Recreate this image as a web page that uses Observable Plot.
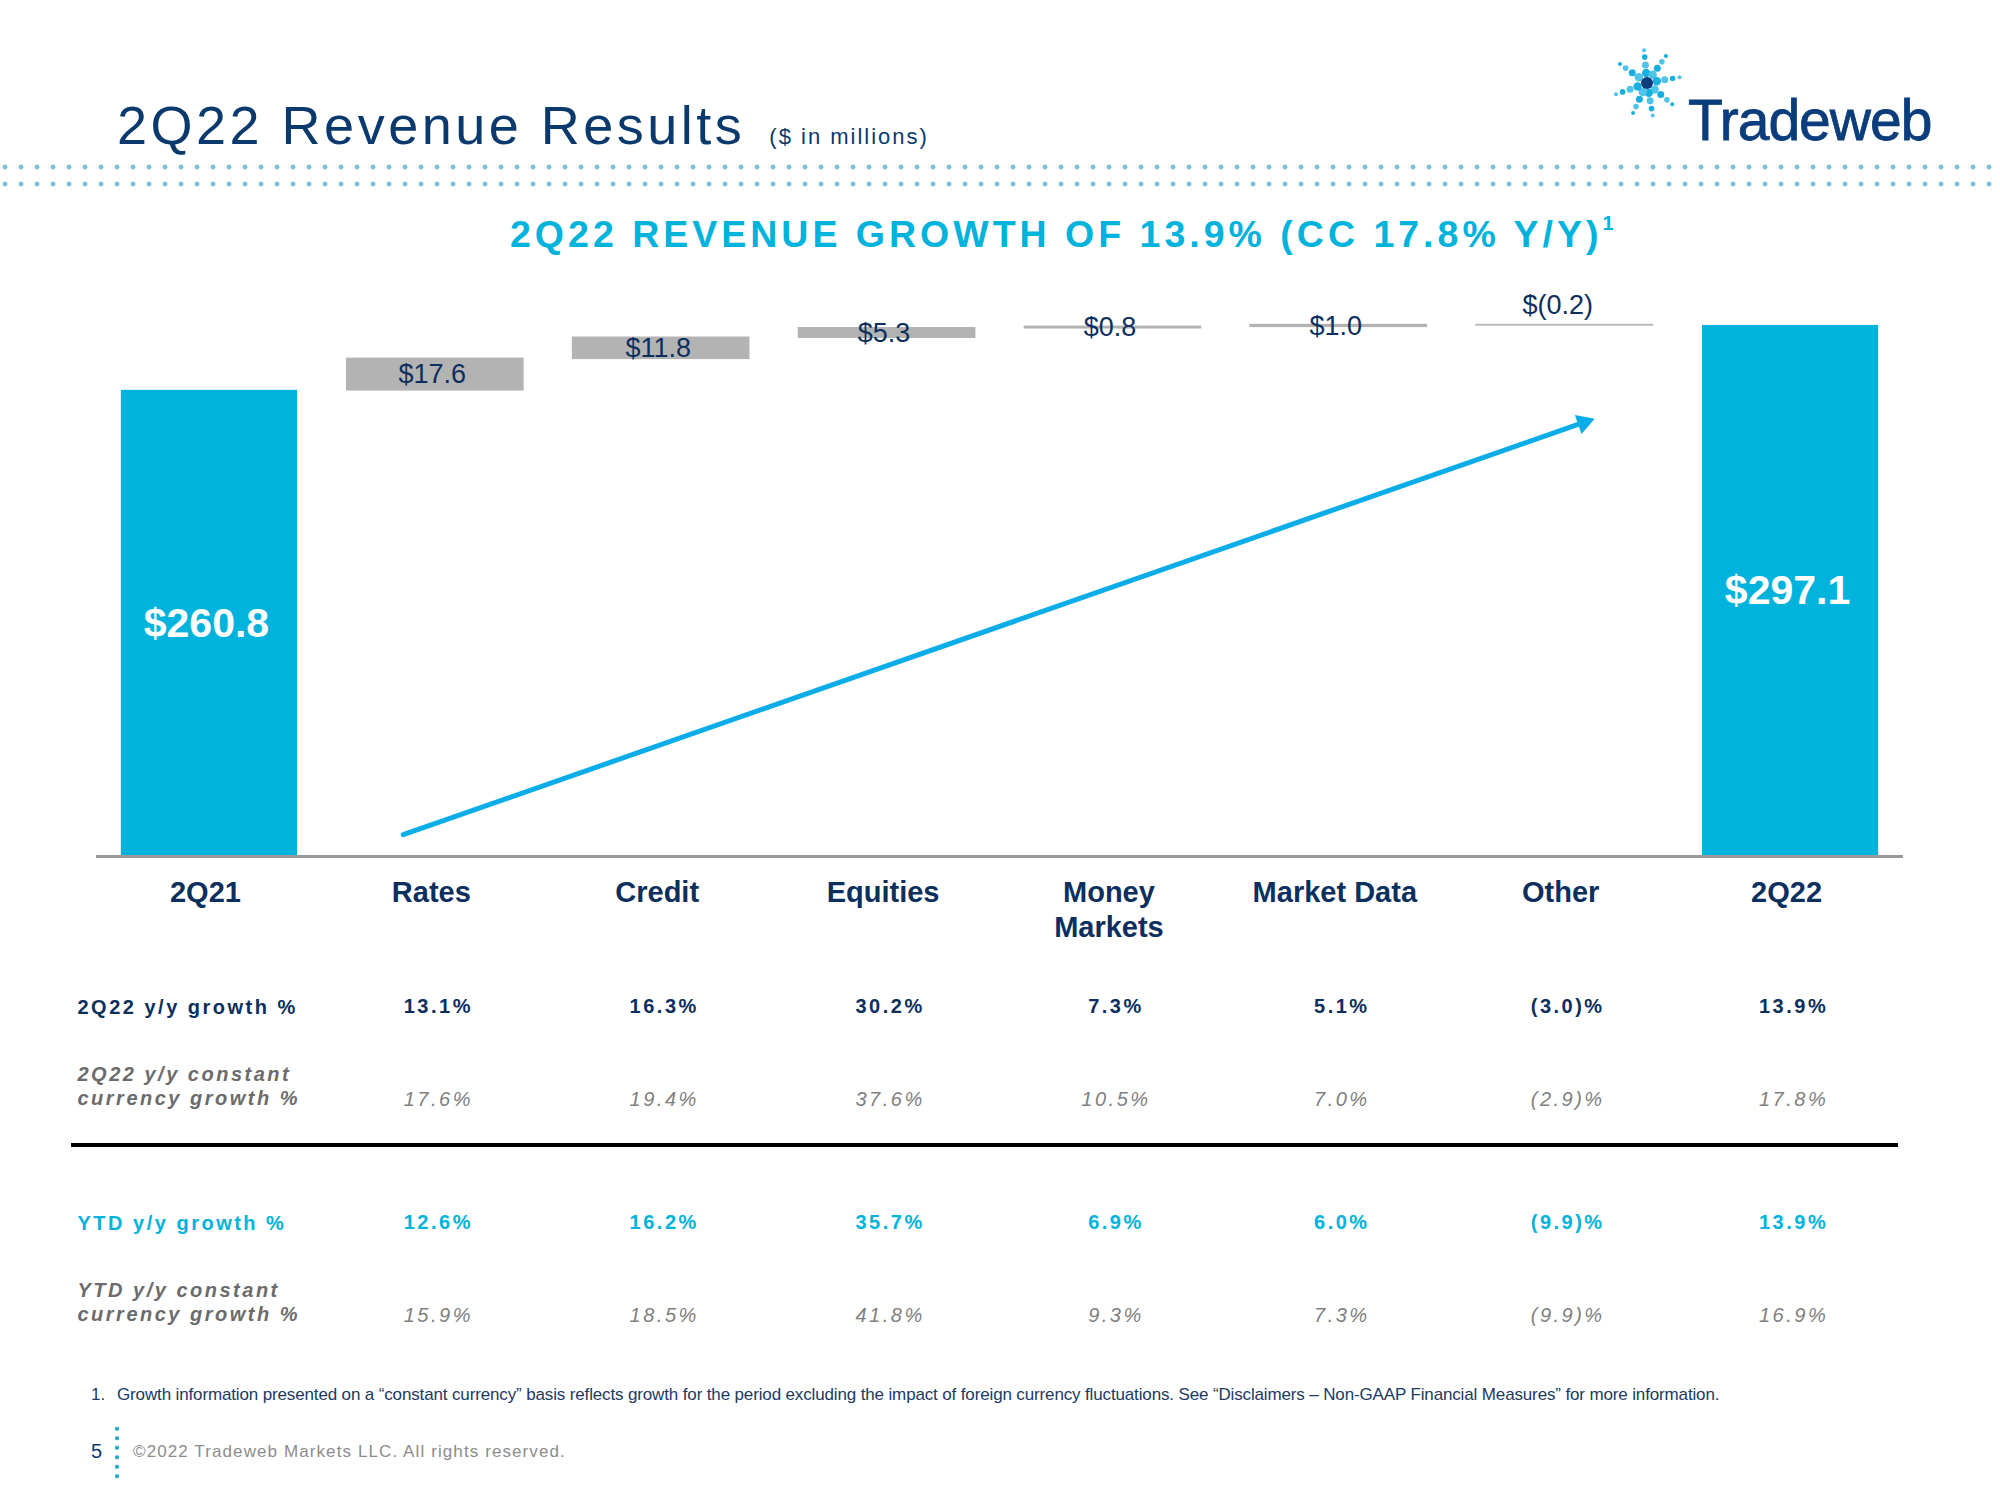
<!DOCTYPE html>
<html>
<head>
<meta charset="utf-8">
<script src="https://cdn.jsdelivr.net/npm/d3@7"></script>
<script src="https://cdn.jsdelivr.net/npm/@observablehq/plot@0.6"></script>
<style>
html,body{margin:0;padding:0;background:#fff;}
body{width:2000px;height:1500px;position:relative;overflow:hidden;font-family:"Liberation Sans",Arial,Helvetica,sans-serif;}
.abs{position:absolute;white-space:nowrap;line-height:1;}
#title{left:117px;top:98px;font-size:54px;letter-spacing:3.5px;color:#0a3a6d;}
#title span{font-size:22px;letter-spacing:2px;margin-left:24px;}
#subtitle{left:510px;top:216px;font-size:37.5px;font-weight:bold;letter-spacing:4px;color:#00b3dc;}
#subtitle sup{font-size:20px;position:relative;top:-4px;letter-spacing:0;}
#logo{left:1688px;top:92px;font-size:57px;letter-spacing:-1px;color:#0b3c7c;-webkit-text-stroke:0.8px #0b3c7c;}
.dots{position:absolute;left:0;width:2000px;height:8px;background-image:radial-gradient(circle at 50% 50%, #7fc1d2 0 2.2px, transparent 2.8px);background-size:16px 8px;background-position:-3px 0;}
#rule{left:71px;top:1143px;width:1827px;height:3.5px;background:#000;}
#foot1{left:91px;top:1386px;font-size:17px;letter-spacing:-0.14px;color:#1c3a63;}
#foot1 b{font-weight:normal;display:inline-block;width:26px;letter-spacing:0;}
#pageno{left:91px;top:1441px;font-size:20px;color:#0a3a6d;}
#vdots{position:absolute;left:113px;top:1424px;width:8px;height:56px;background-image:radial-gradient(circle at 50% 50%, #27a9c9 0 1.8px, transparent 2.4px);background-size:8px 9.5px;}
#copy{left:133px;top:1443px;font-size:17px;letter-spacing:1.1px;color:#8c8c8c;}
.plotwrap{position:absolute;left:0;}
</style>
</head>
<body>
<div class="abs" id="title">2Q22 Revenue Results<span>($ in millions)</span></div>
<svg class="abs" id="burst" style="left:0;top:0" width="2000" height="160"></svg>
<div class="abs" id="logo">Tradeweb</div>
<div class="dots" style="top:163px"></div>
<div class="dots" style="top:180px"></div>
<div class="abs" id="subtitle">2Q22 REVENUE GROWTH OF 13.9% (CC 17.8% Y/Y)<sup>1</sup></div>
<div class="plotwrap" id="chart" style="top:270px"></div>
<div class="plotwrap" id="table1" style="top:960px"></div>
<div class="abs" id="rule"></div>
<div class="plotwrap" id="table2" style="top:1176px"></div>
<div class="abs" id="foot1"><b>1.</b>Growth information presented on a “constant currency” basis reflects growth for the period excluding the impact of foreign currency fluctuations. See “Disclaimers – Non-GAAP Financial Measures” for more information.</div>
<div class="abs" id="pageno">5</div>
<div id="vdots"></div>
<div class="abs" id="copy">©2022 Tradeweb Markets LLC. All rights reserved.</div>
<script>
// ---------- data ----------
const categories = ["2Q21", "Rates", "Credit", "Equities", "Money Markets", "Market Data", "Other", "2Q22"];
const categoryLabels = ["2Q21", "Rates", "Credit", "Equities", "Money\nMarkets", "Market Data", "Other", "2Q22"];
const openingRevenue = 260.8;   // 2Q21
const closingRevenue = 297.1;   // 2Q22
const segments = ["Rates", "Credit", "Equities", "Money Markets", "Market Data", "Other"];
const segmentChange = [17.6, 11.8, 5.3, 0.8, 1.0, -0.2];

const growthColumns = ["Rates", "Credit", "Equities", "Money Markets", "Market Data", "Other", "2Q22"];
const yoyGrowth = [13.1, 16.3, 30.2, 7.3, 5.1, -3.0, 13.9];
const yoyCcGrowth = [17.6, 19.4, 37.6, 10.5, 7.0, -2.9, 17.8];
const ytdGrowth = [12.6, 16.2, 35.7, 6.9, 6.0, -9.9, 13.9];
const ytdCcGrowth = [15.9, 18.5, 41.8, 9.3, 7.3, -9.9, 16.9];

const trendArrow = [{from: "Rates", to: "Other", startValue: 18.5, endValue: 239.1}];

// ---------- derived ----------
let running = openingRevenue;
const steps = segments.map((s, i) => {
  const start = running;
  running = +(running + segmentChange[i]).toFixed(1);
  return {category: s, change: segmentChange[i], start, end: running};
});
const totals = [
  {category: categories[0], value: openingRevenue},
  {category: categories[categories.length - 1], value: closingRevenue}
];
const money = v => v < 0 ? `$(${(-v).toFixed(1)})` : `$${v.toFixed(1)}`;
const pct = v => v < 0 ? `(${(-v).toFixed(1)})%` : `${v.toFixed(1)}%`;

const FONT = '"Liberation Sans", Arial, Helvetica, sans-serif';
const NAVY = "#0c2f5e";
const CYAN = "#00b3dc";
const GREY_BAR = "#b3b3b3";
const ARROW = "#0aade8";
const xScale = {type: "band", domain: categories, paddingInner: 0.22, paddingOuter: 0.11, round: false, axis: null};

// ---------- chart ----------
const chart = Plot.plot({
  width: 2000, height: 686,
  marginTop: 14, marginRight: 97, marginBottom: 100, marginLeft: 96,
  x: xScale,
  y: {domain: [0, 320], axis: null},
  style: `font-family: ${FONT}; background: transparent; overflow: visible;`,
  marks: [
    Plot.barY(totals, {x: "category", y: "value", fill: CYAN}),
    Plot.barY(steps, {x: "category", y1: "start", y2: "end", fill: GREY_BAR, stroke: GREY_BAR, strokeWidth: 1.5}),
    Plot.ruleY([0], {stroke: "#9a9a9a", strokeWidth: 3}),
    Plot.arrow(trendArrow, {x1: "from", y1: "startValue", x2: "to", y2: "endValue",
      stroke: ARROW, strokeWidth: 5, headLength: 0, insetStart: -34, insetEnd: -18}),
    Plot.dot(trendArrow, {x: "to", y: "endValue", symbol: "triangle", r: 7.5, fill: ARROW,
      stroke: "none", rotate: 70.75, dx: 19, dy: -6.6}),
    Plot.text(totals, {x: "category", y: d => d.value / 2, text: d => money(d.value),
      fill: "white", fontSize: 41, fontWeight: "bold", dx: -3}),
    Plot.text(steps.filter(d => d.change >= 0), {x: "category", y: d => (d.start + d.end) / 2,
      text: d => money(d.change), fill: NAVY, fontSize: 27, dx: -3}),
    Plot.text(steps.filter(d => d.change < 0), {x: "category", y: d => Math.max(d.start, d.end),
      text: d => money(d.change), fill: NAVY, fontSize: 27, lineAnchor: "bottom", dy: -11, dx: -7}),
    Plot.text(categories.map((c, i) => ({category: c, label: categoryLabels[i]})), {
      x: "category", y: 0, text: "label", lineAnchor: "top", dy: 21, dx: -4, lineHeight: 1.2,
      fontSize: 29, fontWeight: "bold", fill: NAVY})
  ]
});
document.getElementById("chart").appendChild(chart);

// ---------- table ----------
const rowStyles = {
  main: {value: {fill: NAVY, fontWeight: "bold"}, label: {fill: NAVY, fontWeight: "bold"}},
  ytd: {value: {fill: CYAN, fontWeight: "bold"}, label: {fill: CYAN, fontWeight: "bold"}},
  cc: {value: {fill: "#808080", fontStyle: "italic"}, label: {fill: "#6b6b6b", fontWeight: "bold", fontStyle: "italic"}}
};
function tableBlock(rows) {
  const marks = [];
  for (const r of rows) {
    const st = rowStyles[r.kind];
    const cells = growthColumns.map((c, i) => ({category: c, key: r.key, v: r.values[i]}));
    marks.push(Plot.text(cells, {x: "category", y: "key", text: d => pct(d.v), fontSize: 20, dx: 3, ...st.value}));
    const twoLine = r.label.includes("\n");
    marks.push(Plot.text([r], {y: "key", text: "label", frameAnchor: "left", textAnchor: "start", dx: -19,
      fontSize: 20, lineHeight: 1.2, lineAnchor: twoLine ? "bottom" : "middle", dy: twoLine ? 6 : 0, ...st.label}));
  }
  return Plot.plot({
    width: 2000, height: 185, marginTop: 0, marginBottom: 0, marginLeft: 96, marginRight: 97,
    x: xScale,
    y: {type: "band", domain: rows.map(r => r.key), padding: 0, round: false, axis: null},
    style: `font-family: ${FONT}; letter-spacing: 2.5px; background: transparent; overflow: visible;`,
    marks
  });
}
document.getElementById("table1").appendChild(tableBlock([
  {key: "yoy", label: "2Q22 y/y growth %", values: yoyGrowth, kind: "main"},
  {key: "yoyCc", label: "2Q22 y/y constant\ncurrency growth %", values: yoyCcGrowth, kind: "cc"}
]));
document.getElementById("table2").appendChild(tableBlock([
  {key: "ytd", label: "YTD y/y growth %", values: ytdGrowth, kind: "ytd"},
  {key: "ytdCc", label: "YTD y/y constant\ncurrency growth %", values: ytdCcGrowth, kind: "cc"}
]));

// ---------- logo starburst (decoration) ----------
(function () {
  const svg = d3.select("#burst");
  const cx = 1647, cy = 83;
  const arms = [-95, -55, -10, 40, 80, 115, 160, -145];
  const dist = [10, 18, 26, 33];
  const rad = [4.2, 3.5, 2.8, 2.0];
  arms.forEach((a, k) => {
    const t = a * Math.PI / 180;
    dist.forEach((d, j) => {
      svg.append("circle").attr("cx", cx + d * Math.cos(t)).attr("cy", cy + d * Math.sin(t))
        .attr("r", rad[j]).attr("fill", (j + k) % 2 ? "#4fc3e8" : "#17b0de");
    });
  });
  svg.append("circle").attr("cx", cx).attr("cy", cy).attr("r", 6).attr("fill", "#0b3c7c");
})();
</script>
</body>
</html>
